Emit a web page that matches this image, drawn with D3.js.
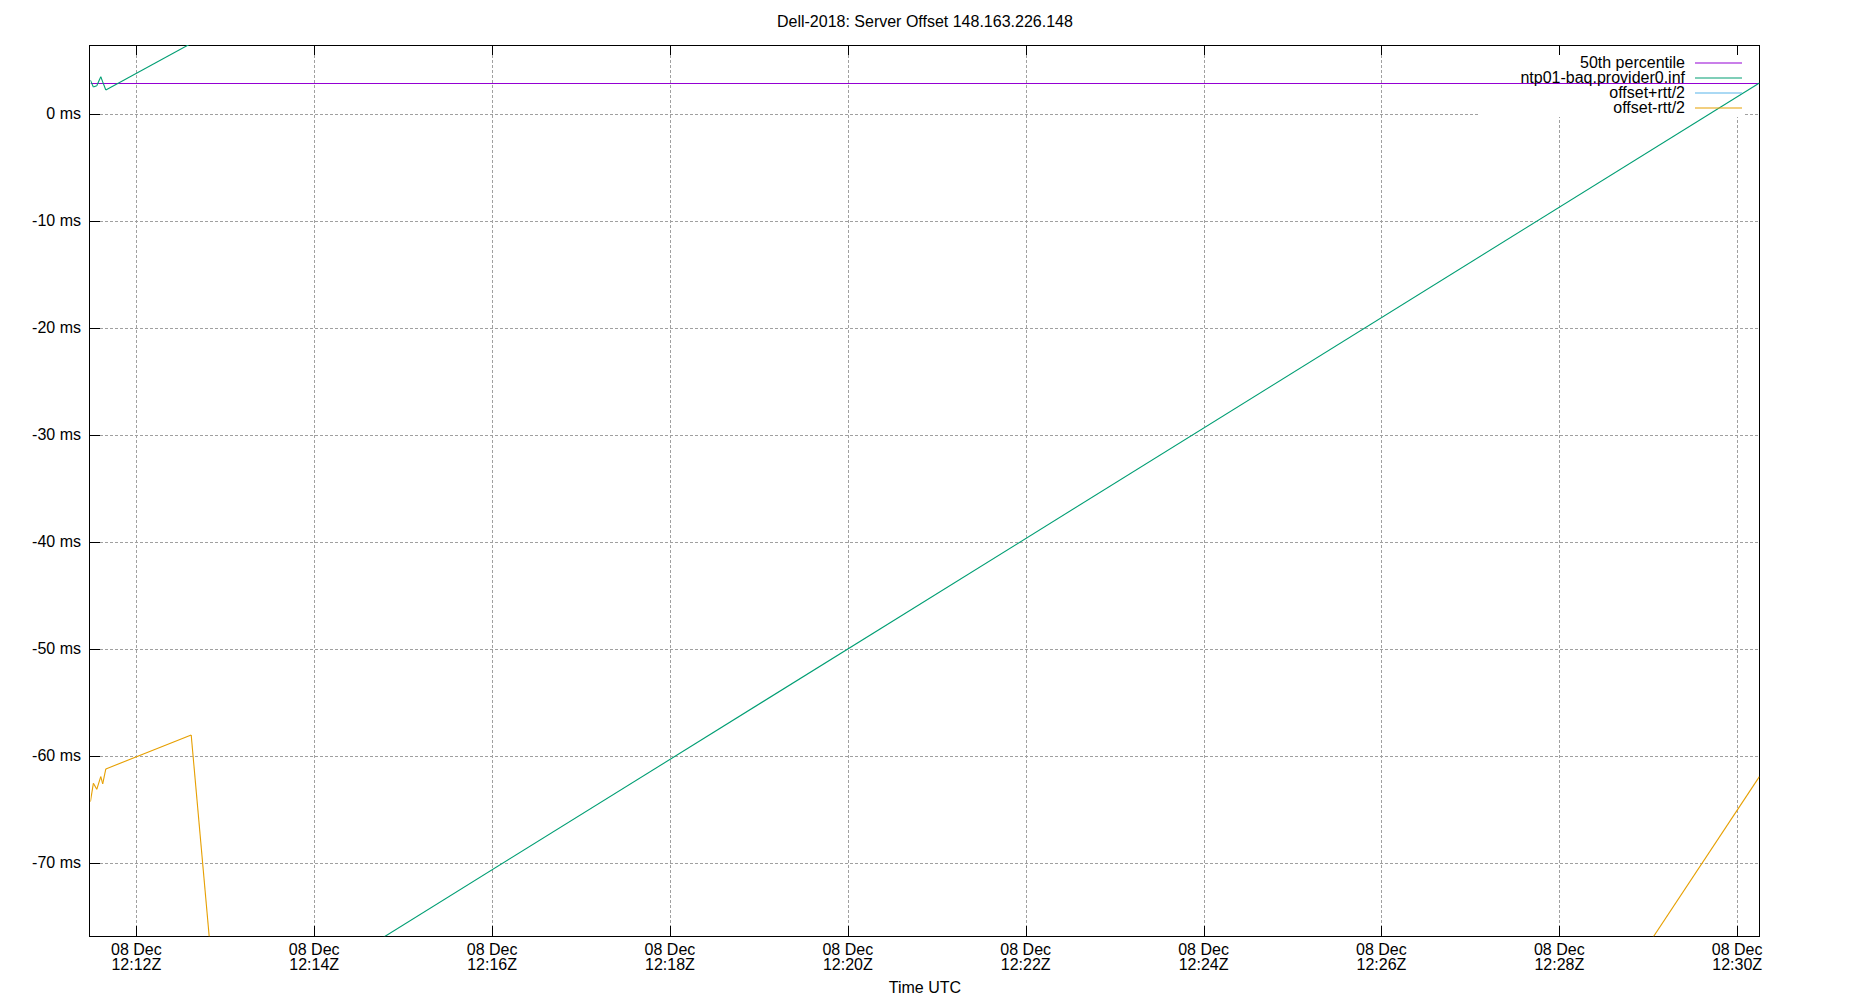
<!DOCTYPE html>
<html>
<head>
<meta charset="utf-8">
<script src="https://cdn.jsdelivr.net/npm/d3@7"></script>
<style>
body { margin: 0; background: white; }
text { font-family: "Liberation Sans", Arial, sans-serif; font-size: 16px; fill: black; }
</style>
</head>
<body>
<div id="chart"></div>
<script>

// chart data
var chart_title = 'Dell-2018: Server Offset 148.163.226.148';
var x_title = 'Time UTC';

var sample_times = [
    '2018-12-08T12:11:29.0Z', '2018-12-08T12:11:31.0Z', '2018-12-08T12:11:33.3Z',
    '2018-12-08T12:11:36.0Z', '2018-12-08T12:11:37.3Z', '2018-12-08T12:11:39.4Z',
    '2018-12-08T12:12:37.0Z', '2018-12-08T12:14:45.0Z', '2018-12-08T12:30:15.0Z'
];
var offset_ms       = [3.27, 2.62, 2.75, 3.58, 3.10, 2.34, 6.70, -77.0, 3.00];
var offset_plus_ms  = [70.7, 67.7, 68.5, 69.0, 68.7, 65.8, 71.3, 102.4, 67.8];
var offset_minus_ms = [-64.18, -62.46, -63.02, -61.84, -62.52, -61.12, -57.94, -256.4, -61.84];
var percentile_50 = 2.95;

var y_range = [-76.76, 6.55];
var y_ticks = [-70, -60, -50, -40, -30, -20, -10, 0];
var x_ticks = [
    '2018-12-08T12:12:00Z', '2018-12-08T12:14:00Z', '2018-12-08T12:16:00Z',
    '2018-12-08T12:18:00Z', '2018-12-08T12:20:00Z', '2018-12-08T12:22:00Z',
    '2018-12-08T12:24:00Z', '2018-12-08T12:26:00Z', '2018-12-08T12:28:00Z',
    '2018-12-08T12:30:00Z'
];

var legend_labels = ['50th percentile', 'ntp01-baq.provider0.inf', 'offset+rtt/2', 'offset-rtt/2'];
var series_colors = ['#9400d3', '#009e73', '#56b4e9', '#e69f00'];

var width = 1850,
    height = 1000;
var plot = {left: 90.4, right: 1759.4, top: 45, bottom: 936.3};

var svg = d3.select('#chart')
    .append('svg')
    .attr('width', width)
    .attr('height', height);

var times = sample_times.map(function(d) { return new Date(d); });

var x = d3.scaleUtc()
    .domain([times[0], times[times.length-1]])
    .range([plot.left, plot.right]);

var y = d3.scaleLinear()
    .domain(y_range)
    .range([plot.bottom, plot.top]);

//clip area
svg.append('defs')
    .append('clipPath')
    .attr('id', 'plot_clip')
    .append('rect')
    .attr('x', plot.left)
    .attr('y', plot.top)
    .attr('width', plot.right - plot.left)
    .attr('height', plot.bottom - plot.top);

//title
svg.append('text')
    .attr('x', (plot.left + plot.right)/2)
    .attr('y', 26.5)
    .style('text-anchor', 'middle')
    .text(chart_title);

//grid lines
var grid = svg.append('g')
    .attr('class', 'grid')
    .style('shape-rendering', 'crispEdges');

grid.selectAll('.grid_y')
    .data(y_ticks)
    .enter()
    .append('line')
    .attr('x1', plot.left)
    .attr('x2', plot.right)
    .attr('y1', function(d) { return Math.round(y(d)) - 0.5; })
    .attr('y2', function(d) { return Math.round(y(d)) - 0.5; })
    .style('stroke', '#a0a0a0')
    .style('stroke-dasharray', '2.5,2.5');

grid.selectAll('.grid_x')
    .data(x_ticks)
    .enter()
    .append('line')
    .attr('x1', function(d) { return Math.round(x(new Date(d))) + 0.5; })
    .attr('x2', function(d) { return Math.round(x(new Date(d))) + 0.5; })
    .attr('y1', plot.top)
    .attr('y2', plot.bottom)
    .style('stroke', '#a0a0a0')
    .style('stroke-dasharray', '2.5,2.5');

//key box hides the grid behind it
svg.append('rect')
    .attr('x', 1480)
    .attr('y', plot.top + 1)
    .attr('width', 263)
    .attr('height', 71)
    .style('fill', 'white');

//ticks and border
var axes = svg.append('g')
    .style('shape-rendering', 'crispEdges')
    .style('stroke', 'black');

axes.selectAll('.ytick')
    .data(y_ticks)
    .enter()
    .append('line')
    .attr('x1', plot.left)
    .attr('x2', plot.left + 10)
    .attr('y1', function(d) { return Math.round(y(d)) - 0.5; })
    .attr('y2', function(d) { return Math.round(y(d)) - 0.5; });

axes.selectAll('.xtick_bottom')
    .data(x_ticks)
    .enter()
    .append('line')
    .attr('x1', function(d) { return Math.round(x(new Date(d))) + 0.5; })
    .attr('x2', function(d) { return Math.round(x(new Date(d))) + 0.5; })
    .attr('y1', plot.bottom)
    .attr('y2', plot.bottom - 10);

axes.selectAll('.xtick_top')
    .data(x_ticks)
    .enter()
    .append('line')
    .attr('x1', function(d) { return Math.round(x(new Date(d))) + 0.5; })
    .attr('x2', function(d) { return Math.round(x(new Date(d))) + 0.5; })
    .attr('y1', plot.top)
    .attr('y2', plot.top + 10);

axes.append('rect')
    .attr('x', Math.round(plot.left) - 0.5)
    .attr('y', plot.top + 0.5)
    .attr('width', Math.round(plot.right - plot.left) + 1)
    .attr('height', Math.round(plot.bottom - plot.top))
    .style('fill', 'none');

//tick labels
svg.selectAll('.ylabel')
    .data(y_ticks)
    .enter()
    .append('text')
    .attr('x', 81)
    .attr('y', function(d) { return y(d) + 4; })
    .style('text-anchor', 'end')
    .text(function(d) { return d + ' ms'; });

var fmt_day = d3.utcFormat('%d %b'),
    fmt_time = d3.utcFormat('%H:%MZ');

var xlabels = svg.selectAll('.xlabel')
    .data(x_ticks)
    .enter()
    .append('text')
    .style('text-anchor', 'middle');

xlabels.append('tspan')
    .attr('x', function(d) { return x(new Date(d)); })
    .attr('y', 955)
    .text(function(d) { return fmt_day(new Date(d)); });

xlabels.append('tspan')
    .attr('x', function(d) { return x(new Date(d)); })
    .attr('y', 970.3)
    .text(function(d) { return fmt_time(new Date(d)); });

svg.append('text')
    .attr('x', (plot.left + plot.right)/2)
    .attr('y', 993)
    .style('text-anchor', 'middle')
    .text(x_title);

// gnuplot style clipping: a segment with both ends out of range is dropped
function clip_segments(values) {
    var segs = [];
    for (var i = 1; i < values.length; ++i) {
        var a_out = values[i-1] < y_range[0] || values[i-1] > y_range[1];
        var b_out = values[i] < y_range[0] || values[i] > y_range[1];
        if (a_out && b_out) continue;
        segs.push([{t: times[i-1], v: values[i-1]}, {t: times[i], v: values[i]}]);
    }
    return segs;
}

var line = d3.line()
    .x(function(d) { return x(d.t); })
    .y(function(d) { return y(d.v); });

var lines = svg.append('g')
    .attr('clip-path', 'url(#plot_clip)');

//50th percentile
lines.append('path')
    .datum([{t: times[0], v: percentile_50}, {t: times[times.length-1], v: percentile_50}])
    .attr('d', line)
    .style('fill', 'none')
    .style('stroke', series_colors[0])
    .style('stroke-width', 1.2);

var series = [offset_ms, offset_plus_ms, offset_minus_ms];
series.forEach(function(values, k) {
    lines.selectAll('.seg' + k)
        .data(clip_segments(values))
        .enter()
        .append('path')
        .attr('d', line)
        .style('fill', 'none')
        .style('stroke', series_colors[k+1])
        .style('stroke-width', 1.1);
});

//key
var key = svg.append('g')
    .attr('class', 'key');

key.selectAll('text')
    .data(legend_labels)
    .enter()
    .append('text')
    .attr('x', 1685)
    .attr('y', function(d, i) { return 63 + i*15 + 4.5; })
    .style('text-anchor', 'end')
    .text(function(d) { return d; });

key.selectAll('line')
    .data(legend_labels)
    .enter()
    .append('line')
    .attr('x1', 1695)
    .attr('x2', 1742)
    .attr('y1', function(d, i) { return 63 + i*15; })
    .attr('y2', function(d, i) { return 63 + i*15; })
    .style('stroke', function(d, i) { return series_colors[i]; })
    .style('stroke-width', 1.2);

</script>
</body>
</html>
